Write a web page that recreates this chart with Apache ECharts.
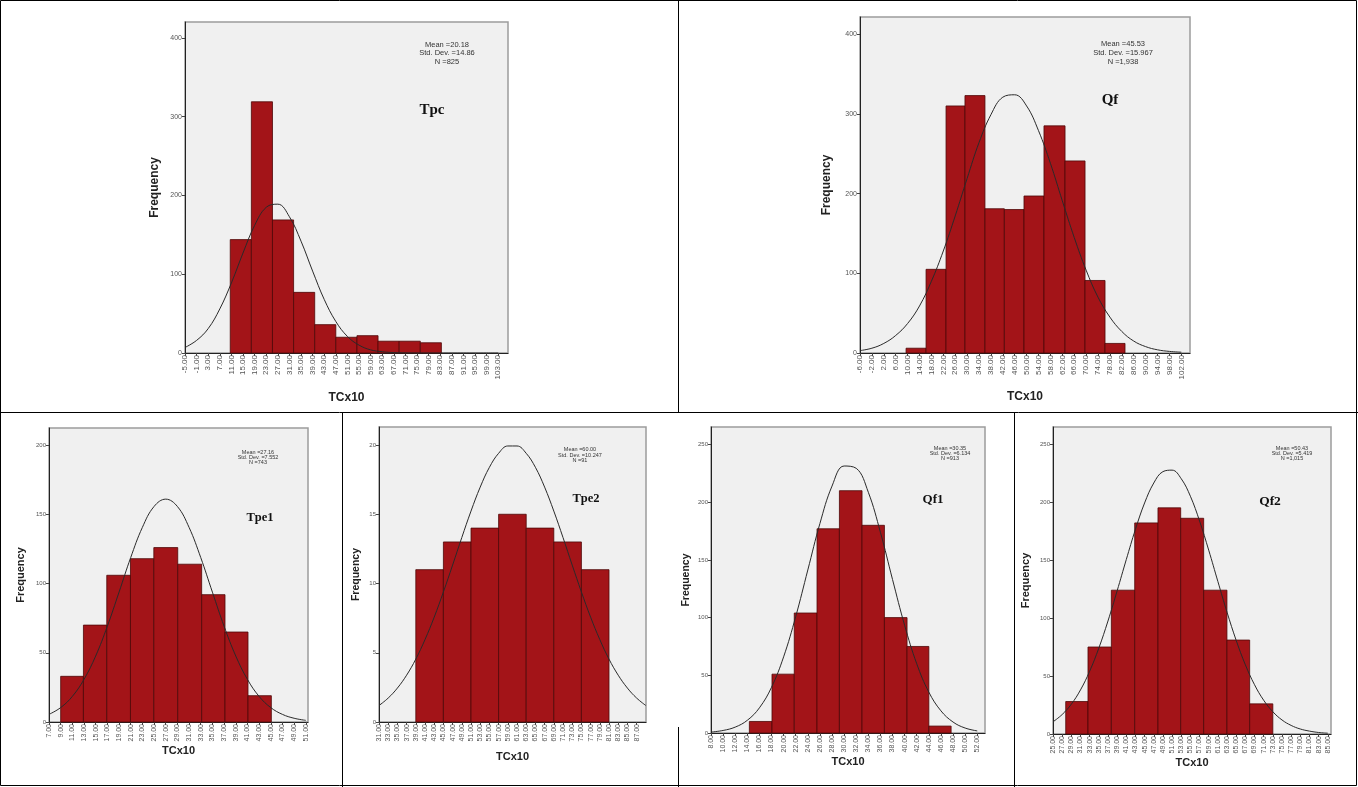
<!DOCTYPE html>
<html>
<head>
<meta charset="utf-8">
<title>TCx10 histograms</title>
<script src="https://cdn.jsdelivr.net/npm/echarts@6/dist/echarts.min.js"></script>
<style>
  html, body { margin: 0; padding: 0; background: #fff; }
  #chart { width: 1358px; height: 787px; }
</style>
</head>
<body>
<div id="chart"></div>
<script>
// x positions of bins are in tick units (0 = first tick label)

// Tpc
var tpcLabels = ['-5.00', '-1.00', '3.00', '7.00', '11.00', '15.00', '19.00', '23.00', '27.00', '31.00', '35.00', '39.00', '43.00', '47.00',
  '51.00', '55.00', '59.00', '63.00', '67.00', '71.00', '75.00', '79.00', '83.00', '87.00', '91.00', '95.00', '99.00', '103.00']
var tpcEdges = [3.9, 5.72, 7.54, 9.36, 11.18, 13.0, 14.82, 16.64, 18.46, 20.28, 22.1]
var tpcFreq = [144, 319, 169, 77, 36, 20, 22, 15, 15, 13]
var tpcCurve = [7, 16, 31, 56, 89, 127, 162, 185, 189, 173, 142, 104, 68, 40, 21, 10, 4, 1.6, 0.5, 0.2, 0, 0, 0, 0, 0, 0, 0, 0]
var tpcYTicks = [0, 100, 200, 300, 400]
var tpcStats = ['Mean =20.18', 'Std. Dev. =14.86', 'N =825']

// Qf
var qfLabels = ['-6.00', '-2.00', '2.00', '6.00', '10.00', '14.00', '18.00', '22.00', '26.00', '30.00', '34.00', '38.00', '42.00', '46.00',
  '50.00', '54.00', '58.00', '62.00', '66.00', '70.00', '74.00', '78.00', '82.00', '86.00', '90.00', '94.00', '98.00', '102.00']
var qfEdges = [3.87, 5.55, 7.23, 8.82, 10.5, 12.13, 13.78, 15.46, 17.23, 18.91, 20.59, 22.27]
var qfFreq = [6, 105, 310, 323, 181, 180, 197, 285, 241, 91, 12]
var qfCurve = [3, 6, 12, 22, 37, 59, 90, 128, 172, 219, 264, 299, 321, 324, 310, 279, 238, 191, 145, 104, 70, 45, 27, 15, 8, 4, 2, 1]
var qfYTicks = [0, 100, 200, 300, 400]
var qfStats = ['Mean =45.53', 'Std. Dev. =15.967', 'N =1,938']

// Tpe1
var tpe1Labels = ['7.00', '9.00', '11.00', '13.00', '15.00', '17.00', '19.00', '21.00', '23.00', '25.00', '27.00', '29.00',
  '31.00', '33.00', '35.00', '37.00', '39.00', '41.00', '43.00', '45.00', '47.00', '49.00', '51.00']
var tpe1Edges = [1.0, 2.95, 4.95, 6.98, 8.98, 11.03, 13.08, 15.08, 17.05, 19.05]
var tpe1Freq = [33, 70, 106, 118, 126, 114, 92, 65, 19]
var tpe1Curve = [5.5, 10.4, 18.5, 30.8, 47.7, 69.2, 93.8, 118.8, 140.6, 155.7, 161, 155.7, 140.6, 118.8, 93.8, 69.2, 47.7, 30.8, 18.5, 10.4, 5.5, 2.7, 1.2]
var tpe1YTicks = [0, 50, 100, 150, 200]
var tpe1Stats = ['Mean =27.16', 'Std. Dev. =7.552', 'N =743']

// Tpe2
var tpe2Labels = ['31.00', '33.00', '35.00', '37.00', '39.00', '41.00', '43.00', '45.00', '47.00', '49.00', '51.00', '53.00', '55.00', '57.00', '59.00',
  '61.00', '63.00', '65.00', '67.00', '69.00', '71.00', '73.00', '75.00', '77.00', '79.00', '81.00', '83.00', '85.00', '87.00']
var tpe2Edges = [4, 7, 10, 13, 16, 19, 22, 25]
var tpe2Freq = [11, 13, 14, 15, 14, 13, 11]
var tpe2Curve = [1.19, 1.73, 2.45, 3.38, 4.54, 5.95, 7.57, 9.39, 11.33, 13.32, 15.23, 16.96, 18.39, 19.4, 19.93,
  19.93, 19.4, 18.39, 16.96, 15.23, 13.32, 11.33, 9.39, 7.57, 5.95, 4.54, 3.38, 2.45, 1.73, 1.19]
var tpe2YTicks = [0, 5, 10, 15, 20]
var tpe2Stats = ['Mean =60.00', 'Std. Dev. =10.247', 'N =91']

// Qf1
var qf1Labels = ['8.00', '10.00', '12.00', '14.00', '16.00', '18.00', '20.00', '22.00', '24.00', '26.00', '28.00', '30.00',
  '32.00', '34.00', '36.00', '38.00', '40.00', '42.00', '44.00', '46.00', '48.00', '50.00', '52.00']
var qf1Edges = [3.17, 5.04, 6.88, 8.76, 10.61, 12.48, 14.33, 16.2, 18.0, 19.84]
var qf1Freq = [10, 51, 104, 177, 210, 180, 100, 75, 6]
var qf1Curve = [0.8, 2.2, 5.1, 11.0, 21.8, 39.6, 66.0, 100.9, 141.3, 181.6, 214.0, 231.4, 229.4, 208.6, 173.9, 133.0, 93.3, 60.0, 35.4, 19.2, 9.5, 4.3, 1.8]
var qf1YTicks = [0, 50, 100, 150, 200, 250]
var qf1Stats = ['Mean =30.35', 'Std. Dev. =6.134', 'N =913']

// Qf2
var qf2Labels = ['25.00', '27.00', '29.00', '31.00', '33.00', '35.00', '37.00', '39.00', '41.00', '43.00', '45.00', '47.00', '49.00', '51.00', '53.00', '55.00',
  '57.00', '59.00', '61.00', '63.00', '65.00', '67.00', '69.00', '71.00', '73.00', '75.00', '77.00', '79.00', '81.00', '83.00', '85.00']
var qf2Edges = [1.39, 3.82, 6.37, 8.92, 11.46, 13.94, 16.45, 18.99, 21.47, 24.0]
var qf2Freq = [28, 75, 124, 182, 195, 186, 124, 81, 26]
var qf2Curve = [10.5, 16.8, 25.7, 38.0, 54.1, 74.0, 97.4, 123.4, 150.4, 176.5, 199.2, 216.4, 226.2, 227.5, 220.1, 205.0,
  183.7, 158.5, 131.5, 105.0, 80.7, 59.7, 42.5, 29.1, 19.2, 12.1, 7.4, 4.3, 2.5, 1.3, 0.7]
var qf2YTicks = [0, 50, 100, 150, 200, 250]
var qf2Stats = ['Mean =50.43', 'Std. Dev. =5.419', 'N =1,015']

// layout of each panel
var panels = [
  { title: 'Tpc', labels: tpcLabels, edges: tpcEdges, freq: tpcFreq, curve: tpcCurve, yTicks: tpcYTicks, stats: tpcStats,
    rect: [185, 22, 323, 331], xMax: 27.84, yMax: 420.3, yGap: 24, xGap: 39, nameSize: 12, yNameSize: 12, tickFont: 8, yFont: 7,
    statsPos: [447, 53], statsFont: 7.5, statsLine: 8.5, titlePos: [432, 110], titleSize: 15 },
  { title: 'Qf', labels: qfLabels, edges: qfEdges, freq: qfFreq, curve: qfCurve, yTicks: qfYTicks, stats: qfStats,
    rect: [860, 17, 330, 336], xMax: 27.73, yMax: 421.6, yGap: 27, xGap: 38, nameSize: 12, yNameSize: 12, tickFont: 8, yFont: 7,
    statsPos: [1123, 52.5], statsFont: 7.5, statsLine: 9, titlePos: [1110, 100], titleSize: 15 },
  { title: 'Tpe1', labels: tpe1Labels, edges: tpe1Edges, freq: tpe1Freq, curve: tpe1Curve, yTicks: tpe1YTicks, stats: tpe1Stats,
    rect: [49, 428, 259, 294], xMax: 22.19, yMax: 212.4, yGap: 23, xGap: 20, nameSize: 11, yNameSize: 11, tickFont: 7, yFont: 6,
    statsPos: [258, 457.5], statsFont: 5.5, statsLine: 5.2, titlePos: [260, 518], titleSize: 12.5 },
  { title: 'Tpe2', labels: tpe2Labels, edges: tpe2Edges, freq: tpe2Freq, curve: tpe2Curve, yTicks: tpe2YTicks, stats: tpe2Stats,
    rect: [379, 427, 267, 295], xMax: 29.02, yMax: 21.3, yGap: 17, xGap: 29, nameSize: 11, yNameSize: 10.5, tickFont: 7, yFont: 6,
    statsPos: [580, 455], statsFont: 5.5, statsLine: 5.4, titlePos: [586, 499], titleSize: 12.5 },
  { title: 'Qf1', labels: qf1Labels, edges: qf1Edges, freq: qf1Freq, curve: qf1Curve, yTicks: qf1YTicks, stats: qf1Stats,
    rect: [711, 427, 274, 306], xMax: 22.64, yMax: 265.2, yGap: 19, xGap: 21, nameSize: 11, yNameSize: 10.5, tickFont: 7, yFont: 6,
    statsPos: [950, 453.5], statsFont: 5.5, statsLine: 5.2, titlePos: [933, 500], titleSize: 13 },
  { title: 'Qf2', labels: qf2Labels, edges: qf2Edges, freq: qf2Freq, curve: qf2Curve, yTicks: qf2YTicks, stats: qf2Stats,
    rect: [1053, 427, 278, 307], xMax: 30.35, yMax: 264.7, yGap: 22, xGap: 23, nameSize: 11, yNameSize: 11, tickFont: 7, yFont: 6,
    statsPos: [1292, 453.5], statsFont: 5.5, statsLine: 5.2, titlePos: [1270, 502], titleSize: 13.5 }
]

var sans = '"Liberation Sans", Arial, sans-serif'
var serif = '"Liberation Serif", "Times New Roman", serif'

function renderBar(params, api) {
  var topLeft = api.coord([api.value(0), api.value(2)])
  var bottomRight = api.coord([api.value(1), 0])
  return {
    type: 'rect',
    shape: {
      x: topLeft[0],
      y: topLeft[1],
      width: bottomRight[0] - topLeft[0],
      height: bottomRight[1] - topLeft[1]
    },
    style: { fill: '#a31418', stroke: '#4e0808', lineWidth: 0.8 }
  }
}

var grid = []
var xAxis = []
var yAxis = []
var series = []
var graphic = []

panels.forEach(function (p, i) {
  var tickIdx = p.labels.map(function (s, k) { return k })

  grid.push({
    left: p.rect[0], top: p.rect[1], width: p.rect[2], height: p.rect[3],
    containLabel: false, outerBoundsMode: 'none',
    show: true, backgroundColor: '#f0f0f0', borderColor: '#9c9c9c', borderWidth: 1.5
  })

  xAxis.push({
    type: 'value', gridIndex: i, min: 0, max: p.xMax,
    name: 'TCx10', nameLocation: 'middle', nameGap: p.xGap,
    nameTextStyle: { fontFamily: sans, fontWeight: 'bold', fontSize: p.nameSize, color: '#222', verticalAlign: 'top' },
    splitLine: { show: false },
    axisLine: { onZero: false, lineStyle: { color: '#222', width: 1 } },
    axisTick: { customValues: tickIdx, length: 3, lineStyle: { color: '#444' } },
    axisLabel: {
      customValues: tickIdx, rotate: 90, margin: 2,
      fontFamily: sans, fontSize: p.tickFont, color: '#555',
      formatter: function (v) { return p.labels[Math.round(v)] }
    }
  })

  yAxis.push({
    type: 'value', gridIndex: i, min: 0, max: p.yMax,
    name: 'Frequency', nameLocation: 'middle', nameGap: p.yGap,
    nameTextStyle: { fontFamily: sans, fontWeight: 'bold', fontSize: p.yNameSize, color: '#222' },
    splitLine: { show: false },
    axisLine: { show: true, lineStyle: { color: '#222', width: 1 } },
    axisTick: { show: true, customValues: p.yTicks, length: 3, lineStyle: { color: '#444' } },
    axisLabel: { customValues: p.yTicks, margin: 3, fontFamily: sans, fontSize: p.yFont, color: '#555' }
  })

  var bars = p.freq.map(function (f, k) { return [p.edges[k], p.edges[k + 1], f] })
  series.push({
    type: 'custom', xAxisIndex: i, yAxisIndex: i,
    renderItem: renderBar, encode: { x: [0, 1], y: 2 },
    data: bars, silent: true, z: 2
  })

  series.push({
    type: 'line', xAxisIndex: i, yAxisIndex: i,
    data: p.curve.map(function (v, k) { return [k, v] }),
    smooth: 0.4, showSymbol: false, symbol: 'none', clip: true,
    lineStyle: { color: '#2a2a2a', width: 1 }, silent: true, z: 3
  })

  graphic.push({
    type: 'text', x: p.statsPos[0], y: p.statsPos[1], z: 10,
    style: {
      text: p.stats.join('\n'), fill: '#333', fontFamily: sans, fontSize: p.statsFont,
      lineHeight: p.statsLine, align: 'center', verticalAlign: 'middle'
    }
  })
  graphic.push({
    type: 'text', x: p.titlePos[0], y: p.titlePos[1], z: 10,
    style: {
      text: p.title, fill: '#111', fontFamily: serif, fontWeight: 'bold', fontSize: p.titleSize,
      align: 'center', verticalAlign: 'middle'
    }
  })
})

// table rules around the panels
var rules = [
  [0, 412.5, 1358, 412.5],
  [678.5, 0, 678.5, 412.5],
  [342.5, 412.5, 342.5, 787],
  [1014.5, 412.5, 1014.5, 787],
  [678.5, 727, 678.5, 787]
]
graphic.push({
  type: 'rect', z: 20, silent: true,
  shape: { x: 0.5, y: 0.5, width: 1356, height: 785 },
  style: { fill: 'none', stroke: '#000', lineWidth: 1 }
})
rules.forEach(function (r) {
  graphic.push({
    type: 'line', z: 20, silent: true,
    shape: { x1: r[0], y1: r[1], x2: r[2], y2: r[3] },
    style: { stroke: '#000', lineWidth: 1 }
  })
})

var chart = echarts.init(document.getElementById('chart'), null, { renderer: 'canvas' })
chart.setOption({
  animation: false,
  backgroundColor: '#fff',
  grid: grid,
  xAxis: xAxis,
  yAxis: yAxis,
  series: series,
  graphic: graphic
})
</script>
</body>
</html>
